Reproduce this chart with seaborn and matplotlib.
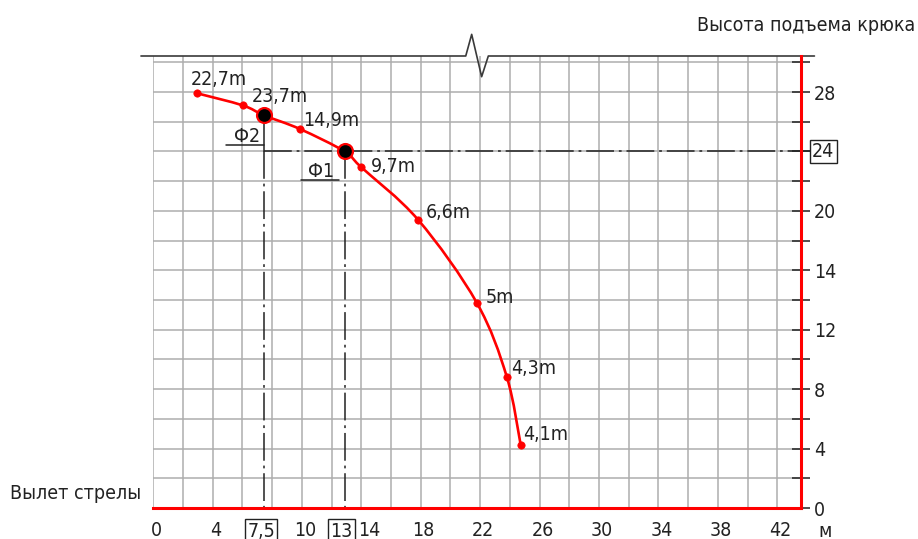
import matplotlib
matplotlib.use("Agg")
import matplotlib.pyplot as plt
import seaborn as sns
import pandas as pd
import numpy as np
from matplotlib.path import Path
from matplotlib.patches import PathPatch
from matplotlib.transforms import ScaledTranslation

# ---------------- data ----------------
point_x = [2.96, 6.02, 9.87, 13.96, 17.84, 21.77, 23.79, 24.73]
point_y = [27.91, 27.10, 25.51, 22.97, 19.38, 13.82, 8.84, 4.24]
point_labels = ["22,7m", "23,7m", "14,9m", "9,7m", "6,6m", "5m", "4,3m", "4,1m"]

phi_x = [7.45, 12.88]
phi_y = [26.43, 24.0]
phi_names = ["Ф2", "Ф1"]
phi_x_labels = ["7,5", "13"]
phi_level = 24
phi_level_label = "24"

x_ticks = list(range(0, 43, 2))
x_tick_labels = {0: "0", 4: "4", 10: "10", 14: "14", 18: "18", 22: "22",
                 26: "26", 30: "30", 34: "34", 38: "38", 42: "42"}
y_ticks = list(range(0, 31, 2))
y_tick_labels = {0: "0", 4: "4", 8: "8", 12: "12", 16: "14", 20: "20", 28: "28"}

title_text = "Высота подъема крюка"
xlabel_text = "Вылет стрелы"
unit_text = "м"

# ---------------- style ----------------
sns.set_theme(style="white")
plt.rcParams["font.family"] = ["DejaVu Sans"]
plt.rcParams["font.stretch"] = "condensed"
plt.rcParams["lines.scale_dashes"] = False
FS = 14

RED = "#ff0000"
GRID = "#adadad"
DARK = "#222222"
TXT = "#222222"

fig = plt.figure(figsize=(9.18, 5.39), dpi=100)
W, H = 918, 539
x0px, x1px, y0px, y1px = 153.3, 801.0, 508.0, 56.0
ax = fig.add_axes([x0px / W, 1 - y0px / H, (x1px - x0px) / W, (y0px - y1px) / H])
XMAX = (x1px - x0px) / 14.857
YMAX = (y0px - y1px) / 14.857
ax.set_xlim(0, XMAX)
ax.set_ylim(0, YMAX)

# smooth curve through all points (Catmull-Rom drawn as cubic Bezier path)
curve = pd.DataFrame({"x": point_x + phi_x, "y": point_y + phi_y}).sort_values("x")
P = curve[["x", "y"]].to_numpy()
Pe = np.vstack([P[0], P, P[-1]])
verts = [tuple(P[0])]
codes = [Path.MOVETO]
for i in range(1, len(Pe) - 2):
    p0, p1, p2, p3 = Pe[i - 1], Pe[i], Pe[i + 1], Pe[i + 2]
    c1 = p1 + (p2 - p0) / 6.0
    c2 = p2 - (p3 - p1) / 6.0
    verts += [tuple(c1), tuple(c2), tuple(p2)]
    codes += [Path.CURVE4] * 3
ax.add_patch(PathPatch(Path(verts, codes), fc="none", ec=RED, lw=1.9, zorder=5))

sns.scatterplot(x=point_x, y=point_y, ax=ax, color=RED, s=28, edgecolor=RED,
                linewidth=0.5, zorder=6)
sns.scatterplot(x=phi_x, y=phi_y, ax=ax, color="black", s=115, edgecolor=RED,
                linewidth=1.6, zorder=7)

# point labels
offs = [(-7, 8), (9, 3), (3, 3), (10, -5), (7, 2), (9, 0), (4, 3), (2, 5)]
for x, y, t, (dx, dy) in zip(point_x, point_y, point_labels, offs):
    ax.annotate(t, (x, y), xytext=(dx * 0.72, dy * 0.72), textcoords="offset points",
                ha="left", va="baseline", fontsize=FS, color=TXT, zorder=8)

# grid / spines / ticks
ax.set_xticks(x_ticks)
ax.set_xticklabels([x_tick_labels.get(v, "") for v in x_ticks])
ax.set_yticks(y_ticks)
ax.set_yticklabels([y_tick_labels.get(v, "") for v in y_ticks])
ax.yaxis.tick_right()
ax.grid(True, color=GRID, lw=1.1)
ax.set_axisbelow(True)
for s in ["left", "top"]:
    ax.spines[s].set_visible(False)
for s in ["bottom", "right"]:
    ax.spines[s].set_color(RED)
    ax.spines[s].set_linewidth(2.2)
    ax.spines[s].set_zorder(4)
ax.tick_params(axis="both", direction="inout", length=13, width=1.1, color=DARK,
               labelsize=FS, labelcolor=TXT)
ax.tick_params(axis="x", pad=3)
ax.tick_params(axis="y", pad=3)
ax.set_xlabel("")
ax.set_ylabel("")
for tk, v in zip(ax.xaxis.get_major_ticks(), x_ticks):
    dx = 8 if v == 14 else 3
    tk.label1.set_transform(tk.label1.get_transform() +
                            ScaledTranslation(dx / 100, 0, fig.dpi_scale_trans))

# top line with break symbol
tx = [-0.83, 21.03, 21.43, 22.10, 22.55, 44.5]
ty = [YMAX, YMAX, 31.88, 29.03, YMAX, YMAX]
ax.plot(tx, ty, color="#3a3a3a", lw=1.2, clip_on=False, zorder=3)

# dash-dot reference lines
dd = dict(color=DARK, lw=1.1, dashes=(20, 3.5, 2, 3.5), clip_on=False, zorder=3)
ax.plot([phi_x[0], phi_x[0]], [phi_level, 0], **dd)
ax.plot([phi_x[0], phi_x[0]], [phi_y[0], phi_level], color=DARK, lw=1.1, zorder=3)
ax.plot([phi_x[1], phi_x[1]], [phi_level, 0], **dd)
ax.plot([phi_x[0], 44.35], [phi_level, phi_level], **dd)

# Ф labels with leader underline
ax.text(6.28, 24.65, phi_names[0], ha="center", va="baseline", fontsize=FS, color=TXT)
ax.plot([4.87, phi_x[0]], [24.43, 24.43], color=DARK, lw=1.1)
ax.text(11.32, 22.3, phi_names[1], ha="center", va="baseline", fontsize=FS, color=TXT)
ax.plot([9.95, 12.5], [22.08, 22.08], color=DARK, lw=1.1)

# boxed labels
bb = dict(boxstyle="square,pad=0.12", fc="white", ec=DARK, lw=1.0)
ax.text(45.08, phi_level, phi_level_label, ha="center", va="center", fontsize=FS,
        color=TXT, bbox=bb, clip_on=False)
xt = ax.get_xaxis_transform()
for x, t in zip(phi_x, phi_x_labels):
    ax.text(x - 0.2, -(536.7 - 508) / 452, t, transform=xt, ha="center", va="baseline",
            fontsize=FS, color=TXT, bbox=bb, clip_on=False)

# titles
fig.text(915 / W, 1 - 30.7 / H, title_text, ha="right", va="baseline", fontsize=FS, color=TXT)
fig.text(10 / W, 1 - 499 / H, xlabel_text, ha="left", va="baseline", fontsize=FS, color=TXT)
fig.text(818 / W, 1 - 536.7 / H, unit_text, ha="left", va="baseline", fontsize=FS, color=TXT)

fig.savefig("out.png", dpi=100)
